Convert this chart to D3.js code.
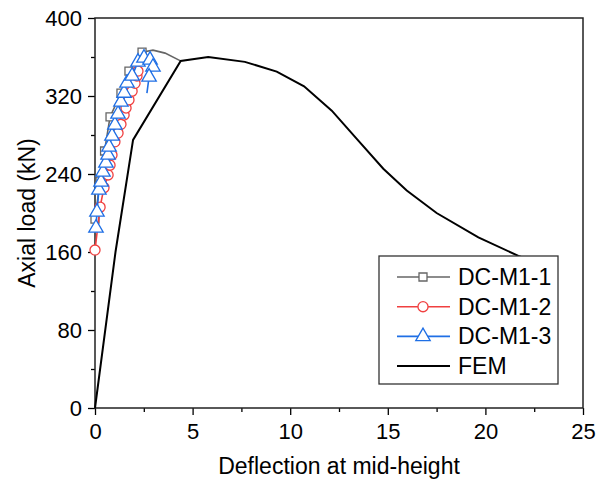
<!DOCTYPE html>
<html><head><meta charset="utf-8">
<script src="https://cdn.jsdelivr.net/npm/d3@7"></script>
<style>body{margin:0;background:#fff}svg{display:block}text{font-family:"Liberation Sans",Arial,sans-serif;fill:#000}</style>
</head><body><svg id="c" width="609" height="482"></svg>
<script>
// Data
const xTicks = [0, 5, 10, 15, 20, 25];
const yTicks = [0, 80, 160, 240, 320, 400];
const seriesNames = ["DC-M1-1", "DC-M1-2", "DC-M1-3", "FEM"];

const m1X = [0.0, 0.26, 0.49, 0.77, 1.33, 1.74, 2.41, 2.97, 3.59, 4.38];
const m1Y = [193.8, 232.8, 263.6, 298.5, 323, 345.6, 365, 367, 364, 356];
const m1Markers = 7; // first points carry markers

const m2X = [0.0, 0.26, 0.46, 0.67, 0.77, 0.87, 1.02, 1.18, 1.33, 1.49, 1.59, 1.74, 1.90, 2.05, 2.15, 2.20];
const m2Y = [162, 206, 226, 239, 249, 259.5, 273, 282, 291, 300.5, 307.7, 316, 325, 333, 340.5, 345.6];

const m3X = [0.05, 0.10, 0.20, 0.31, 0.41, 0.56, 0.67, 0.72, 0.87, 1.02, 1.18, 1.33, 1.49, 1.64, 1.90, 2.20, 2.51, 2.82, 2.97, 2.77, 2.66];
const m3Y = [184.6, 201, 223.6, 231.8, 242, 251.3, 259.5, 267.7, 279, 290.3, 301.5, 313.8, 323, 333.3, 340.5, 354.9, 359, 357, 349.7, 339.5, 323];
const m3Markers = 20; // last point is a bare line end

const femX = [0, 1.05, 1.95, 4.39, 5.80, 7.68, 9.31, 10.71, 12.13, 13.41, 14.77, 15.97, 17.50, 19.64, 21.69, 23.5];
const femY = [0, 160, 275, 356, 360, 355, 345, 330, 305, 276, 245.4, 223, 200, 175, 156, 143];

const svg = d3.select("#c");
const x = d3.scaleLinear().domain([0, 25]).range([95, 583]);
const y = d3.scaleLinear().domain([0, 400]).range([408, 18]);
const FONT = 22;

// minor ticks
svg.append("g").attr("transform", "translate(0,408)")
  .call(d3.axisBottom(x).tickValues(d3.range(2.5, 25, 5)).tickSize(4).tickFormat(""))
  .call(g => g.select(".domain").remove())
  .selectAll("line").attr("stroke", "#000").attr("stroke-width", 1.3);
svg.append("g").attr("transform", "translate(95,0)")
  .call(d3.axisLeft(y).tickValues(d3.range(40, 400, 80)).tickSize(4).tickFormat(""))
  .call(g => g.select(".domain").remove())
  .selectAll("line").attr("stroke", "#000").attr("stroke-width", 1.3);

// major axes
const gx = svg.append("g").attr("transform", "translate(0,408)")
  .call(d3.axisBottom(x).tickValues(xTicks).tickSize(7).tickPadding(8).tickFormat(d3.format("d")));
gx.select(".domain").remove();
gx.selectAll("line").attr("stroke", "#000").attr("stroke-width", 1.3);
gx.selectAll("text").attr("font-size", FONT).style("font-family", '"Liberation Sans",Arial,sans-serif').attr("fill", "#000");

const gy = svg.append("g").attr("transform", "translate(95,0)")
  .call(d3.axisLeft(y).tickValues(yTicks).tickSize(7).tickPadding(6).tickFormat(d3.format("d")));
gy.select(".domain").remove();
gy.selectAll("line").attr("stroke", "#000").attr("stroke-width", 1.3);
gy.selectAll("text").attr("font-size", FONT).style("font-family", '"Liberation Sans",Arial,sans-serif').attr("fill", "#000");

// frame
svg.append("rect").attr("x", 95).attr("y", 18).attr("width", 488).attr("height", 390)
  .attr("fill", "none").attr("stroke", "#222").attr("stroke-width", 1.5);

// series
const colors = ["#666666", "#f04040", "#1f6fe5", "#000000"];
const line = d3.line().x(d => x(d[0])).y(d => y(d[1]));
const zip = (a, b) => a.map((v, i) => [v, b[i]]);
const plot = svg.append("g");

function markerPath(type, size) {
  const sym = type === "square" ? d3.symbolSquare : type === "circle" ? d3.symbolCircle : d3.symbolTriangle;
  return d3.symbol().type(sym).size(size)();
}
const SZ = {square: 64, circle: 80, triangle: 90};

const s1 = zip(m1X, m1Y), s2 = zip(m2X, m2Y), s3 = zip(m3X, m3Y), s4 = zip(femX, femY);
plot.append("path").attr("d", line(s1)).attr("fill", "none").attr("stroke", colors[0]).attr("stroke-width", 1.6);
plot.selectAll(".m1").data(s1.slice(0, m1Markers)).enter().append("path")
  .attr("d", markerPath("square", SZ.square)).attr("transform", d => `translate(${x(d[0])},${y(d[1])})`)
  .attr("fill", "#fff").attr("stroke", colors[0]).attr("stroke-width", 1.3);

plot.append("path").attr("d", line(s2)).attr("fill", "none").attr("stroke", colors[1]).attr("stroke-width", 1.6);
plot.selectAll(".m2").data(s2).enter().append("path")
  .attr("d", markerPath("circle", SZ.circle)).attr("transform", d => `translate(${x(d[0])},${y(d[1])})`)
  .attr("fill", "#fff").attr("stroke", colors[1]).attr("stroke-width", 1.3);

plot.append("path").attr("d", line(s3)).attr("fill", "none").attr("stroke", colors[2]).attr("stroke-width", 1.6);
plot.selectAll(".m3").data(s3.slice(0, m3Markers)).enter().append("path")
  .attr("d", markerPath("triangle", SZ.triangle)).attr("transform", d => `translate(${x(d[0])},${y(d[1])})`)
  .attr("fill", "#fff").attr("stroke", colors[2]).attr("stroke-width", 1.3);

plot.append("path").attr("d", line(s4)).attr("fill", "none").attr("stroke", colors[3]).attr("stroke-width", 2);

// axis titles
svg.append("text").attr("x", 339).attr("y", 474).attr("text-anchor", "middle")
  .attr("font-size", 23).text("Deflection at mid-height");
svg.append("text").attr("transform", "translate(35,213) rotate(-90)").attr("text-anchor", "middle")
  .attr("font-size", 23).text("Axial load (kN)");

// legend
const lg = svg.append("g");
lg.append("rect").attr("x", 379).attr("y", 256).attr("width", 179).attr("height", 128)
  .attr("fill", "#fff").attr("stroke", "#333").attr("stroke-width", 1.3);
const types = ["square", "circle", "triangle", null];
seriesNames.forEach((n, i) => {
  const yy = 277 + i * 29.7;
  lg.append("line").attr("x1", 397).attr("x2", 450).attr("y1", yy).attr("y2", yy)
    .attr("stroke", colors[i]).attr("stroke-width", i === 3 ? 2 : 1.6);
  if (types[i]) lg.append("path").attr("d", markerPath(types[i], SZ[types[i]]))
    .attr("transform", `translate(423,${yy})`).attr("fill", "#fff").attr("stroke", colors[i]).attr("stroke-width", 1.3);
  lg.append("text").attr("x", 458).attr("y", yy + 8).attr("font-size", 23).text(n);
});
</script></body></html>
